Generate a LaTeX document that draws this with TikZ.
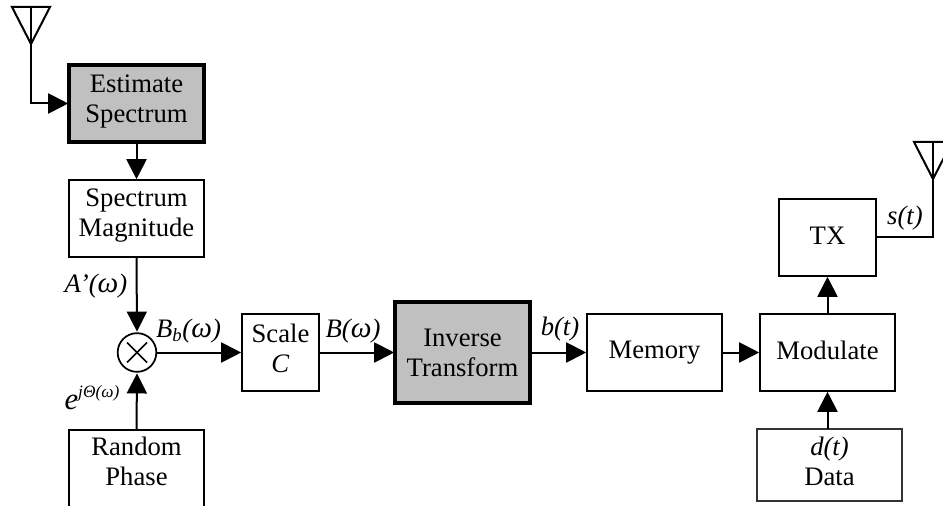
\documentclass[tikz,border=0pt]{standalone}
\usepackage{fontspec}
\setmainfont{Liberation Serif}
\usetikzlibrary{arrows.meta}
\newcommand{\omg}{{\fontsize{22}{22}\selectfont ω}}
\tikzset{
  x=0.75pt,y=-0.75pt,
  txt/.style={font=\fontsize{20}{22.5}\selectfont,align=center,inner sep=0pt},
  box/.style={draw=black,line width=1.3pt,rectangle,inner sep=0pt,outer sep=0pt,txt},
  grey/.style={box,fill=boxgrey,line width=2.4pt},
  lab/.style={font=\fontsize{20}{22.5}\selectfont\itshape,inner sep=0pt},
  conn/.style={line width=1.5pt,-{Triangle[length=15pt,width=15pt]},shorten >=0.6pt},
  wire/.style={line width=1.5pt,line join=miter},
}
\definecolor{boxgrey}{HTML}{C0C0C0}
\begin{document}
\begin{tikzpicture}
\clip (0,0) rectangle (943,506);
\fill[white] (0,0) rectangle (943,506);
% boxes
\node[grey,minimum width=101.25pt,minimum height=57.75pt,text depth=7.3pt] (est) at (136.5,103.5) {Estimate\\Spectrum};
\node[box,minimum width=101.25pt,minimum height=57.75pt,text depth=8.8pt] (mag) at (136.5,218.5) {Spectrum\\Magnitude};
\node[draw=black,line width=1.3pt,circle,minimum size=29pt,inner sep=0pt,outer sep=0.6pt] (mul) at (137,352.5) {};
\node[box,minimum width=101.25pt,minimum height=60pt] (rnd) at (136.5,470) {};
\node[txt] (rndt) at (136.5,461.5) {Random\\Phase};
\node[box,minimum width=57.75pt,minimum height=57.75pt,text depth=6.3pt] (scl) at (280.5,352.5) {Scale\\\textit{C}};
\node[grey,minimum width=101.25pt,minimum height=75.75pt] (inv) at (462.5,352.5) {Inverse\\Transform};
\node[box,minimum width=101.25pt,minimum height=57.75pt] (mem) at (654.5,352.5) {Memory};
\node[box,minimum width=101.25pt,minimum height=57.75pt,text depth=3pt] (mod) at (827.5,352.5) {Modulate};
\node[box,minimum width=72.75pt,minimum height=57.75pt,text depth=3pt] (tx) at (827.5,237.5) {TX};
\node[box,line width=0.8pt,draw=black!80,minimum width=108.75pt,minimum height=54pt,text depth=6pt] (dat) at (829.5,465) {\textit{d(t)}\\Data};
% antennas
\coordinate (antL) at (31,44);
\coordinate (antR) at (933,179);
\draw[wire] (12,7) -- (50,7) -- (antL) -- cycle;
\draw[wire] (31,7) -- (antL);
\draw[wire] (914,142) -- (952,142) -- (antR) -- cycle;
\draw[wire] (933,142) -- (antR);
% connectors
\draw[conn] (antL) |- (est.west);
\draw[conn] (est.south) -- (mag.north);
\draw[conn] (mag.south) -- (mul.north);
\draw[conn] (rnd.north) -- (mul.south);
\draw[conn] (mul.east) -- (scl.west);
\draw[conn] (scl.east) -- (inv.west);
\draw[conn] (inv.east) -- (mem.west);
\draw[conn] (mem.east) -- (mod.west);
\draw[conn] (mod.north) -- (tx.south);
\draw[conn] (mod.south |- dat.north) -- (mod.south);
\draw[wire] (tx.east) -| (antR);
% multiplier cross
\draw[line width=1.3pt] ([shift={(-10,-10)}]mul.center) -- ([shift={(10,10)}]mul.center);
\draw[line width=1.3pt] ([shift={(-10,10)}]mul.center) -- ([shift={(10,-10)}]mul.center);
% labels
\node[lab] (lA) at (96,286) {A’(\omg)};
\node[lab] (lBb) at (188.5,331) {B\textsubscript{b}(\omg)};
\node[lab] (lB) at (353,331) {B(\omg)};
\node[lab] (lb) at (560,329) {b(t)};
\node[lab] (ls) at (905,218) {s(t)};
\node[lab] (le) at (92,398) {{\fontsize{23}{23}\selectfont e}\raisebox{9pt}{\fontsize{13}{13}\selectfont jΘ(ω)}};
\end{tikzpicture}
\end{document}
